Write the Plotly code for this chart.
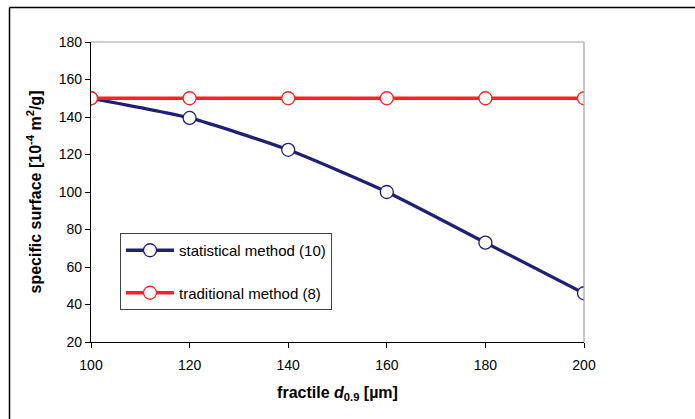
import plotly.graph_objects as go

fractile = [100, 120, 140, 160, 180, 200]
statistical = [150, 139.5, 122.5, 100, 73, 46]
traditional = [150, 150, 150, 150, 150, 150]

x_ticks = [100, 120, 140, 160, 180, 200]
y_ticks = [20, 40, 60, 80, 100, 120, 140, 160, 180]

NAVY = "#1f1f78"
RED = "#ff2020"
FONT = "Arial, Liberation Sans, sans-serif"

fig = go.Figure()
fig.add_trace(go.Scatter(
    x=fractile, y=statistical, name="statistical method (10)",
    mode="lines+markers", legendgroup="a",
    line=dict(color=NAVY, width=3.3, shape="spline", smoothing=0.6),
    marker=dict(symbol="circle", size=13, color="white", line=dict(color=NAVY, width=1.3)),
))
fig.add_trace(go.Scatter(
    x=fractile, y=traditional, name="traditional method (8)",
    mode="lines+markers", legendgroup="b",
    line=dict(color=RED, width=3.3),
    marker=dict(symbol="circle", size=13, color="white", line=dict(color=RED, width=1.3)),
))

W, H = 695, 419
L, R, T, B = 91, 111, 42, 77
pw, ph = W - L - R, H - T - B

def px(xp):
    return (xp - L) / pw

def py(yp):
    return (H - B - yp) / ph

shapes = [
    # outer frame (top & left visible)
    dict(type="line", xref="paper", yref="paper", x0=px(9.5), x1=px(720), y0=py(7.5), y1=py(7.5),
         line=dict(color="black", width=1.5)),
    dict(type="line", xref="paper", yref="paper", x0=px(9.5), x1=px(9.5), y0=py(7.5), y1=py(440),
         line=dict(color="black", width=1.5)),
    # grey plot-area top & right
    dict(type="line", xref="paper", yref="paper", x0=0, x1=1, y0=1, y1=1,
         line=dict(color="#a0a0a0", width=1.2)),
    dict(type="line", xref="paper", yref="paper", x0=1, x1=1, y0=0, y1=1,
         line=dict(color="#a0a0a0", width=1.2)),
]

fig.update_layout(
    width=W, height=H,
    margin=dict(l=L, r=R, t=T, b=B),
    paper_bgcolor="white", plot_bgcolor="white",
    font=dict(family=FONT, size=14, color="black"),
    shapes=shapes,
    showlegend=True,
    legend=dict(
        x=px(120), y=py(233), xanchor="left", yanchor="top",
        bordercolor="#404040", borderwidth=1, bgcolor="white",
        traceorder="grouped", tracegroupgap=20,
        font=dict(family=FONT, size=15),
        itemwidth=48,
    ),
    xaxis=dict(
        range=[100, 200], tickvals=x_ticks, showgrid=False, zeroline=False,
        showline=True, linecolor="black", linewidth=1.3,
        ticks="outside", ticklen=5, tickcolor="black", ticklabelstandoff=5,
        title=dict(text="<b>fractile <i>d</i><sub>0.9</sub> [µm]</b>",
                   font=dict(family=FONT, size=16), standoff=14),
    ),
    yaxis=dict(
        range=[20, 180], tickvals=y_ticks, showgrid=False, zeroline=False,
        showline=True, linecolor="black", linewidth=1.3,
        ticks="outside", ticklen=5, tickcolor="black",
        title=dict(text="<b>specific surface [10<sup>-4</sup> m<sup>2</sup>/g]</b>",
                   font=dict(family=FONT, size=16), standoff=13),
    ),
)

fig.write_html(
    "out.html",
    config={"displayModeBar": False},
    post_script="document.body.style.margin='0';document.body.style.overflow='hidden';",
)
